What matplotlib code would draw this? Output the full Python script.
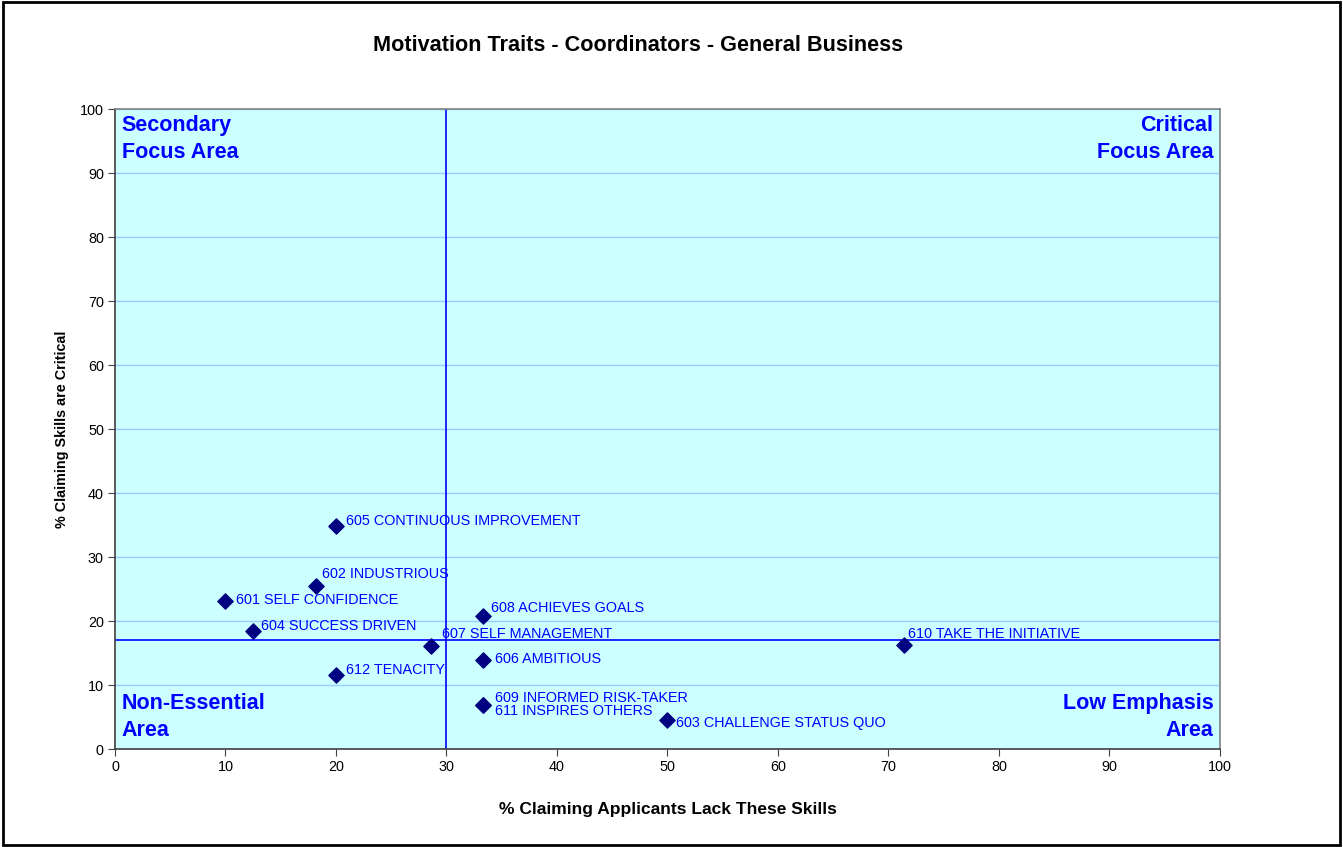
import matplotlib.pyplot as plt
from matplotlib.patches import Rectangle

plt.rcParams['font.family'] = ['Liberation Sans', 'DejaVu Sans']

# data
labels = ['605 CONTINUOUS IMPROVEMENT', '602 INDUSTRIOUS', '601 SELF CONFIDENCE',
          '604 SUCCESS DRIVEN', '607 SELF MANAGEMENT', '612 TENACITY',
          '608 ACHIEVES GOALS', '606 AMBITIOUS', '609 INFORMED RISK-TAKER',
          '611 INSPIRES OTHERS', '603 CHALLENGE STATUS QUO', '610 TAKE THE INITIATIVE']
lack_pct = [20.0, 18.2, 10.0, 12.5, 28.6, 20.0, 33.3, 33.3, 33.3, 33.3, 50.0, 71.4]
critical_pct = [34.8, 25.5, 23.1, 18.4, 16.1, 11.6, 20.8, 13.9, 6.9, 6.9, 4.5, 16.2]
x_split = 30
y_split = 17

# label offsets in pixels (dx, dy)
offsets = [(10, 5), (6, 12), (11, 1), (8, 5), (11, 12), (10, 5),
           (8, 8), (12, 1), (12, 7), (12, -6), (9, -3), (4, 11)]

fig = plt.figure(figsize=(13.43, 8.47), dpi=100)
fig.patches.append(Rectangle((0.002, 0.002), 0.996, 0.996, transform=fig.transFigure,
                             fill=False, edgecolor='black', linewidth=2))

ax = fig.add_axes([0.0856, 0.1157, 0.8228, 0.7556])
ax.set_facecolor('#CCFFFF')
ax.set_xlim(0, 100)
ax.set_ylim(0, 100)
ax.set_xticks(range(0, 101, 10))
ax.set_yticks(range(0, 101, 10))
ax.grid(axis='y', color='#99CCFF', linewidth=1)
ax.set_axisbelow(True)
for s in ax.spines.values():
    s.set_color('#808080')
    s.set_linewidth(1.2)
ax.spines['left'].set_color('#404040')
ax.spines['bottom'].set_color('#404040')
ax.tick_params(direction='out', length=5, color='#404040', labelsize=10.4, pad=3)

ax.axvline(x_split, color='#0000FF', linewidth=1.2, zorder=2)
ax.axhline(y_split, color='#0000FF', linewidth=1.2, zorder=2)

ax.scatter(lack_pct, critical_pct, marker='D', s=60, color='#000080', zorder=3)
for lab, x, y, (dx, dy) in zip(labels, lack_pct, critical_pct, offsets):
    ax.annotate(lab, (x, y), xytext=(dx * 0.72, dy * 0.72), textcoords='offset points',
                ha='left', va='center', fontsize=10.4, color='#0000FF', zorder=4)

qkw = dict(fontsize=15.5, fontweight='bold', color='#0000FF', transform=ax.transAxes,
           linespacing=1.4)
ax.text(0.006, 0.991, 'Secondary\nFocus Area', ha='left', va='top', **qkw)
ax.text(0.994, 0.991, 'Critical\nFocus Area', ha='right', va='top', **qkw)
ax.text(0.006, 0.012, 'Non-Essential\nArea', ha='left', va='bottom', **qkw)
ax.text(0.994, 0.012, 'Low Emphasis\nArea', ha='right', va='bottom', **qkw)

ax.set_xlabel('% Claiming Applicants Lack These Skills', fontsize=12.5, fontweight='bold', labelpad=20)
ax.set_ylabel('% Claiming Skills are Critical', fontsize=10.4, fontweight='bold', labelpad=8)
fig.text(0.475, 0.946, 'Motivation Traits - Coordinators - General Business',
         ha='center', va='center', fontsize=15.6, fontweight='bold')

fig.savefig('out.png', dpi=100)
